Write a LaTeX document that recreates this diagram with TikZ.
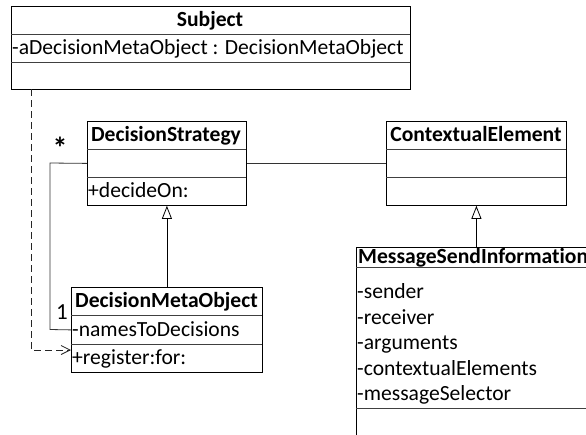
\documentclass[tikz,border=0pt]{standalone}
\usepackage{fontspec}
\setmainfont[Ligatures=NoCommon]{Carlito}
\usetikzlibrary{arrows.meta}
\begin{document}
\begin{tikzpicture}[x=1pt,y=-1pt,
  font=\fontsize{21.6}{25}\selectfont,
  classbox/.style={draw=black,line width=0.8pt,inner sep=0pt,anchor=north west,fill=white},
  sep/.style={draw=black!75,line width=0.8pt},
  title/.style={inner sep=0pt,font=\fontsize{21.6}{25}\selectfont\bfseries,text height=16pt,text depth=3pt},
  member/.style={inner sep=0pt,anchor=west,text height=16pt,text depth=3pt},
  mult/.style={inner sep=0pt,text height=16pt,text depth=3pt},
  assoc/.style={draw=black!80,line width=0.8pt},
  generalize/.style={draw=black,line width=0.8pt,-{Triangle[open,length=13pt,width=10pt,fill=white]}},
  depends/.style={draw=black!85,line width=0.8pt,dash pattern=on 7pt off 4pt,-{Straight Barb[length=9pt,width=9pt]}}]
\useasboundingbox (0,0) rectangle (586,434);
\clip (0,0) rectangle (586,434);

% Subject
\node[classbox,minimum width=399pt,minimum height=83pt] (subj) at (11,6) {};
\draw[sep] (11,34) -- (410,34);
\draw[sep] (11,62) -- (410,62);
\node[title] (subjT) at (210,20) {Subject};
\node[member] (subjA) at (12,48) {-aDecisionMetaObject : DecisionMetaObject};

% DecisionStrategy
\node[classbox,minimum width=159pt,minimum height=84pt] (ds) at (87,121) {};
\draw[sep] (87,149) -- (246,149);
\draw[sep] (87,177) -- (246,177);
\node[title] (dsT) at (166,135) {DecisionStrategy};
\node[member] (dsO) at (88,191) {+decideOn:};

% ContextualElement
\node[classbox,minimum width=180pt,minimum height=84pt] (ce) at (386,121) {};
\draw[sep] (386,149) -- (566,149);
\draw[sep] (386,177) -- (566,177);
\node[title] (ceT) at (476,135) {ContextualElement};

% DecisionMetaObject
\node[classbox,minimum width=191pt,minimum height=85pt] (dmo) at (71,287) {};
\draw[sep] (71,315) -- (262,315);
\draw[sep] (71,344) -- (262,344);
\node[title] (dmoT) at (166.5,301) {DecisionMetaObject};
\node[member] (dmoA) at (72,329.5) {-namesToDecisions};
\node[member] (dmoO) at (72,358) {+register:for:};

% MessageSendInformation (runs past the right and bottom edges)
\node[classbox,minimum width=240pt,minimum height=210pt] (msi) at (356,247) {};
\draw[sep] (356,267) -- (600,267);
\draw[sep] (356,408) -- (600,408);
\node[title,anchor=west] (msiT) at (358,257) {MessageSendInformation};
\node[member] (msiA1) at (357,292) {-sender};
\node[member] (msiA2) at (357,317.5) {-receiver};
\node[member] (msiA3) at (357,343) {-arguments};
\node[member] (msiA4) at (357,368.5) {-contextualElements};
\node[member] (msiA5) at (357,394) {-messageSelector};

% associations
\draw[assoc] (ds.east) -- (ce.west);
\coordinate (bendTop) at (50,163);
\coordinate (bendBot) at (50,329.5);
\draw[assoc] (ds.west) -- (bendTop) -- (bendBot) -- (dmo.west);
\node[mult,font=\fontsize{30}{30}\selectfont\bfseries] (star) at (60,152) {*};
\node[mult,font=\fontsize{23}{25}\selectfont] (one) at (62,313) {1};

% generalizations
\draw[generalize] (dmo.north) -- (ds.south);
\draw[generalize] (msi.north -| ce.south) -- (ce.south);

% dependency
\coordinate (depStart) at (31,89);
\coordinate (depBend) at (31,350);
\coordinate (depEnd) at (71,350);
\draw[depends] (depStart) -- (depBend) -- (depEnd);
\end{tikzpicture}
\end{document}
